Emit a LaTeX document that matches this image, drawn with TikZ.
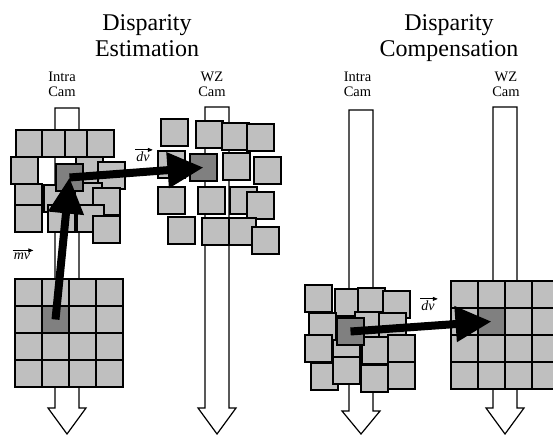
\documentclass[tikz,border=0pt]{standalone}
\usepackage{fontspec}
\setmainfont{Liberation Serif}
\usepackage{tikz}
\usetikzlibrary{calc,arrows.meta,positioning}
\definecolor{cellgrey}{gray}{0.75}
\definecolor{darkgrey}{gray}{0.5}
\tikzset{lightcell/.style={draw=black,line width=1.4pt,fill=cellgrey,minimum size=27pt,inner sep=0pt,shape=rectangle},darkcell/.style={lightcell,fill=darkgrey}}

\begin{document}
\begin{tikzpicture}[x=1pt,y=-1pt]

\tikzset{stream/.style={draw=black,line width=1.2pt,fill=white},
vector/.style={line width=8pt,-{Triangle[length=36pt,width=34pt]}},
smallvec/.style={line width=0.8pt,-{Triangle[length=5pt,width=4pt]}},
title/.style={font=\fontsize{24}{26}\selectfont,align=center,anchor=north,inner sep=0pt},
camlabel/.style={font=\fontsize{14.5}{15}\selectfont,align=center,anchor=north,inner sep=0pt},
veclabel/.style={font=\fontsize{14}{15}\selectfont\itshape,inner sep=0pt}}

\useasboundingbox (0,0) rectangle (553,435);

% Titles
\node[title] (est) at (147,14.5) {Disparity\\Estimation};
\node[title] (comp) at (449,14.5) {Disparity\\Compensation};

% Camera labels
\node[camlabel] (intraA) at (62,72) {Intra\\Cam};
\node[camlabel] (wzA) at (212,72) {WZ\\Cam};
\node[camlabel] (intraB) at (357.5,72) {Intra\\Cam};
\node[camlabel] (wzB) at (506,72) {WZ\\Cam};

% Frame streams
\foreach \cx/\ty/\hy in {67/108/408, 217/107/408, 361/110/411, 505/107/408}
  \draw[stream] ({\cx-12},\ty) -- ({\cx+12},\ty) -- ({\cx+12},\hy) -- ({\cx+19},\hy) -- (\cx,434) -- ({\cx-19},\hy) -- ({\cx-12},\hy) -- cycle;

% Block grids
\foreach \r in {1,2,3,4} \foreach \c in {1,2,3,4} \node[lightcell] (g\r\c) at ({1.5+27*\c},{265.5+27*\r}) {};
\node[darkcell] (gd) at (g22) {};
\foreach \r in {1,2,3,4} \foreach \c in {1,2,3,4} \node[lightcell] (h\r\c) at ({437.5+27*\c},{267.5+27*\r}) {};
\node[darkcell] (hd) at (h22) {};

% Scattered blocks, intra cam
\foreach \n/\x/\y in {1/16/130, 2/42/130, 3/65/130, 4/87/130, 5/11/157, 6/76/157, 7/98/162, 8/44/185, 9/75/183, 10/15/184, 11/93/188, 12/15/205, 13/48/205, 14/77/205, 15/93/216}
  \node[lightcell] (a\n) at ({\x+13.5},{\y+13.5}) {};
\node[darkcell] (ad) at (69.5,177.5) {};

% Scattered blocks, WZ cam
\foreach \n/\x/\y in {1/161/119, 2/196/121, 3/222/123, 4/247/124, 5/158/151, 7/223/153, 8/254/157, 9/158/187, 10/198/187, 11/230/187, 12/247/192, 13/168/217, 14/202/218, 15/229/218, 16/252/227}
  \node[lightcell] (m\n) at ({\x+13.5},{\y+13.5}) {};
\node[darkcell] (md) at (203.5,167.5) {};

% Scattered blocks, compensation side
\foreach \n/\x/\y in {1/305/285, 2/335/289, 3/358/288, 4/383/291, 9/333/334, 6/355/312, 5/309/313, 7/379/313, 10/362/337, 8/305/335, 11/388/335, 12/311/363, 13/333/357, 14/361/365, 15/388/362}
  \node[lightcell] (r\n) at ({\x+13.5},{\y+13.5}) {};
\node[darkcell] (rd) at (350.5,331.5) {};

% Vector labels
\node[veclabel] (mvlab) at (22,256) {mv};
\node[veclabel] (dvlabA) at (143,157) {dv};
\node[veclabel] (dvlabB) at (428,306) {dv};
\foreach \v in {mvlab,dvlabA,dvlabB}
  \draw[smallvec] ($(\v.north west)+(-1,-2)$) -- ($(\v.north east)+(3,-2)$);

% Motion and disparity vectors
\draw[vector] (gd.center) -- (ad.center);
\draw[vector] (ad.center) -- (md.center);
\draw[vector] (rd.center) -- (hd.center);

\end{tikzpicture}
\end{document}
